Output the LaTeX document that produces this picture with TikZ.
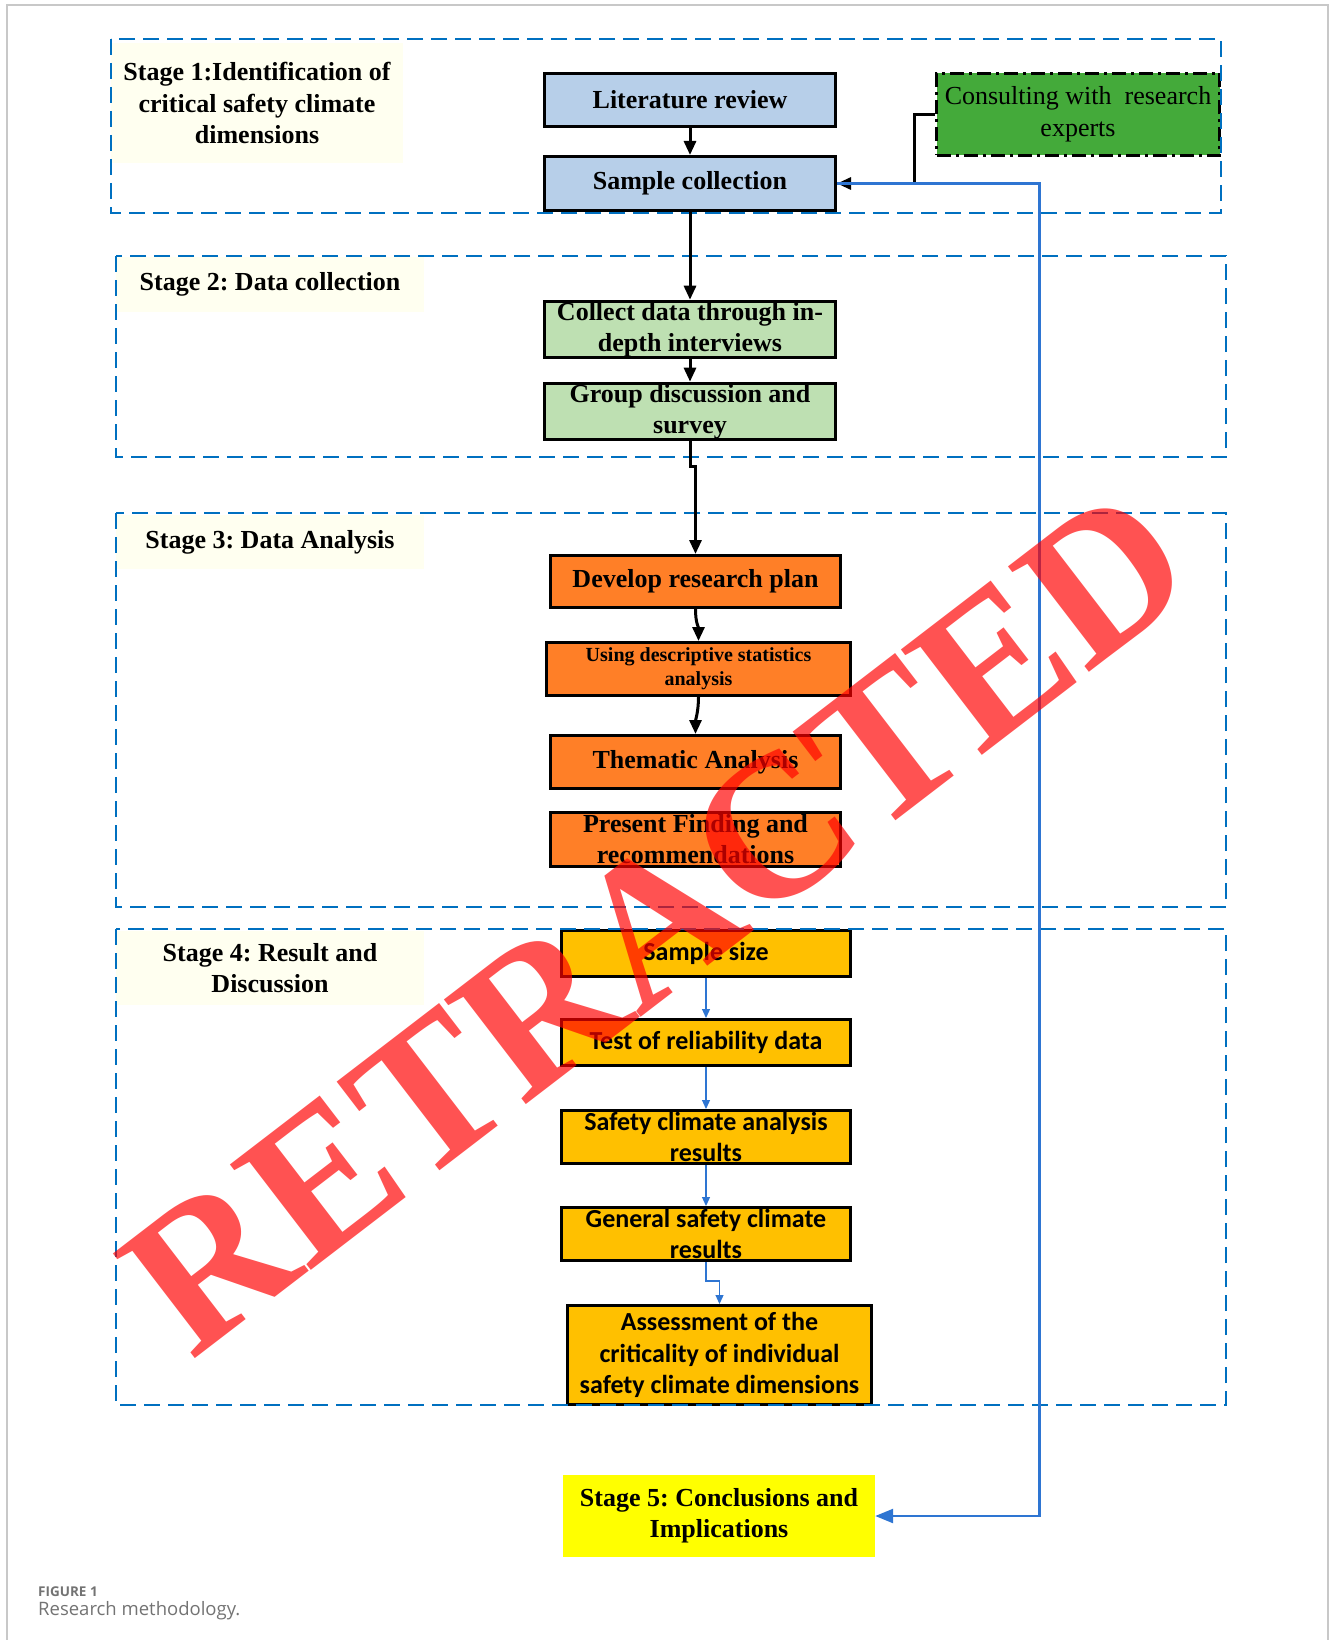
\documentclass[tikz,border=0pt]{standalone}
\usepackage{fontspec}
\setmainfont{Liberation Serif}
\newfontfamily\calfont{Carlito}
\newfontfamily\capfont{Open Sans}
\frenchspacing
\usetikzlibrary{arrows.meta,positioning}
\definecolor{frameclr}{RGB}{0,112,192}
\definecolor{linkclr}{RGB}{46,117,210}
\definecolor{lblfill}{RGB}{255,255,240}
\definecolor{s1fill}{RGB}{183,207,233}
\definecolor{s2fill}{RGB}{190,224,178}
\definecolor{s3fill}{RGB}{255,127,39}
\definecolor{s4fill}{RGB}{255,192,0}
\definecolor{s5fill}{RGB}{255,255,0}
\definecolor{expfill}{RGB}{68,170,58}
\definecolor{pagebdr}{RGB}{200,200,200}
\definecolor{captxt}{RGB}{115,115,115}
\tikzset{
  %% process block (Times)
  pblk/.style={rectangle,draw=black,line width=3pt,
    minimum width=291pt,minimum height=54pt,inner sep=1pt,
    align=center,font=\fontsize{26}{31}\selectfont\bfseries},
  %% result block (Calibri, stage 4)
  cblk/.style={pblk,fill=s4fill,minimum width=289pt,minimum height=53pt,
    font=\calfont\fontsize{26}{31.5}\selectfont\bfseries},
  %% expert block
  expblk/.style={rectangle,draw=black,line width=3pt,fill=expfill,
    dash pattern=on 14pt off 5pt on 3pt off 5pt,
    minimum width=283pt,minimum height=82pt,inner sep=1pt,
    align=center,font=\fontsize{26}{32}\selectfont},
  %% stage label
  lblbox/.style={rectangle,fill=lblfill,inner sep=0pt,minimum width=308pt,
    align=center,font=\fontsize{26}{31.5}\selectfont\bfseries},
  %% stage frame
  stgframe/.style={draw=frameclr,line width=2.2pt,dash pattern=on 16pt off 8pt},
  %% arrows
  arr/.style={-{Triangle[length=14pt,width=12pt]},line width=3pt,black},
  barr/.style={-{Triangle[length=9pt,width=8pt]},line width=1.2pt,linkclr},
  bbarr/.style={-{Triangle[length=18pt,width=14pt]},line width=2.5pt,linkclr},
  %% watermark
  stamp/.style={font=\fontsize{203}{208}\selectfont\bfseries,text=red,
    text opacity=0.68,inner sep=0pt},
}
\begin{document}
\begin{tikzpicture}[x=1pt,y=-1pt]
  \useasboundingbox (0,0) rectangle (1330,1640);
  \draw[pagebdr,line width=1.5pt] (7,1640) -- (7,5) -- (1328,5) -- (1328,1640);

  %% stage labels
  \node[lblbox,minimum width=292pt,minimum height=120pt] (lab1) at (257,103)
    {Stage 1:Identification of\\critical safety climate\\dimensions};
  \node[lblbox,minimum height=55pt] (lab2) at (270,284.5) {Stage 2: Data collection};
  \node[lblbox,minimum height=54pt] (lab3) at (270,542) {Stage 3: Data Analysis};
  \node[lblbox,minimum height=74pt] (lab4) at (270,968) {Stage 4: Result and\\Discussion};

  %% stage 1
  \node[pblk,fill=s1fill,minimum height=53pt] (litrev) at (690,100) {Literature review};
  \node[pblk,fill=s1fill] (sample) at (690,183.5) {Sample collection};
  \node[expblk] (consult) at (1078,114.5) {Consulting with\ \ research\\experts};

  %% stage 2
  \node[pblk,fill=s2fill] (collect) at (690,329.5) {Collect data through in-\\depth interviews};
  \node[pblk,fill=s2fill] (group) at (690,411.5) {Group discussion and\\survey};

  %% stage 3
  \node[pblk,fill=s3fill,minimum width=290pt,minimum height=52pt] (develop) at (695.5,581.5) {Develop research plan};
  \node[pblk,fill=s3fill,minimum width=304pt,minimum height=53pt,
    font=\fontsize{20}{24}\selectfont\bfseries] (usingds) at (698.5,669) {Using descriptive statistics\\analysis};
  \node[pblk,fill=s3fill,minimum width=290pt,minimum height=53pt] (thematic) at (695.5,762) {Thematic Analysis};
  \node[pblk,fill=s3fill,minimum width=290pt] (present) at (695.5,839.5) {Present Finding and\\recommendations};

  %% stage 4
  \node[cblk,minimum height=46pt] (sampsize) at (706,953.5) {Sample size};
  \node[cblk,minimum height=46pt] (testrel) at (706,1042.5) {Test of reliability data};
  \node[cblk] (safeclim) at (706,1137) {Safety climate analysis\\results};
  \node[cblk] (genclim) at (706,1234) {General safety climate\\results};
  \node[cblk,minimum width=304pt,minimum height=99pt] (assess) at (719.5,1355)
    {Assessment of the\\criticality of individual\\safety climate dimensions};

  %% stage 5
  \node[rectangle,fill=s5fill,minimum width=312pt,minimum height=82pt,inner sep=1pt,
    align=center,font=\fontsize{26}{31}\selectfont\bfseries] (stage5) at (719,1516)
    {Stage 5: Conclusions and\\Implications};

  %% stage frames
  \draw[stgframe] (111,39) rectangle (1221,213);
  \draw[stgframe] (116,256) rectangle (1226,457);
  \draw[stgframe] (116,513) rectangle (1226,907);
  \draw[stgframe] (116,929) rectangle (1226,1405);

  %% connectors
  \draw[arr] (litrev) -- (sample);
  \draw[arr] (consult.west) -- ++(-21,0) |- (sample.east);
  \draw[bbarr] (sample.east) -- ++(202.5,0) |- (stage5.east);
  \draw[arr] (sample) -- (collect);
  \draw[arr] (collect) -- (group);
  \draw[arr] (group.south) -- ++(0,25) -| (develop.north);
  \draw[arr] (develop.south) .. controls +(0,14) and +(0,-14) .. (usingds.north);
  \draw[arr] (usingds.south) .. controls +(0,14) and +(0,-14) .. (thematic.north);
  \draw[barr] (sampsize) -- (testrel);
  \draw[barr] (testrel) -- (safeclim);
  \draw[barr] (safeclim) -- (genclim);
  \draw[barr] (genclim.south) -- ++(0,19) -| (assess.north);

  %% caption
  \node[anchor=west,inner sep=0pt,text=captxt,
    font=\capfont\fontsize{13.5}{16}\selectfont\bfseries] (figno) at (38,1592) {FIGURE 1};
  \node[anchor=west,inner sep=0pt,text=captxt,
    font=\capfont\fontsize{18.5}{22}\selectfont] (figcap) at (38,1611) {Research methodology.};

  %% watermark
  \node[stamp,rotate=37.5] (retracted) at (657,921) {RETRACTED};
\end{tikzpicture}
\end{document}
